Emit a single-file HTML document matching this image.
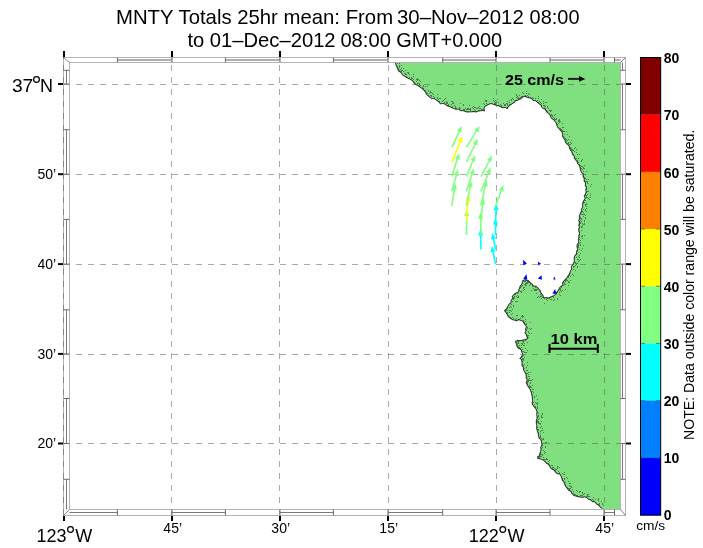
<!DOCTYPE html><html><head><meta charset="utf-8"><style>html,body{margin:0;padding:0;background:#fff;}svg{display:block;}text{font-family:"Liberation Sans", sans-serif;}</style></head><body>
<svg style="will-change:transform" width="703" height="548" viewBox="0 0 703 548">
<polygon points="395.1,63.0 395.9,64.9 396.8,67.2 397.7,69.2 398.5,71.2 401.0,72.7 402.5,75.2 404.8,76.6 407.1,78.0 409.4,79.1 411.6,80.3 413.2,81.7 414.3,83.7 416.2,84.9 418.5,86.3 420.7,87.7 422.4,89.1 424.1,90.4 425.3,92.3 426.3,94.4 428.1,95.9 429.8,97.4 431.5,98.8 433.8,98.5 435.5,99.7 437.4,100.9 438.9,102.5 440.6,104.0 443.2,103.5 445.2,104.4 446.9,105.9 448.9,106.4 450.8,107.3 452.6,108.2 455.3,109.3 458.3,109.3 460.3,110.8 462.8,110.8 465.1,111.6 467.2,112.3 469.4,112.1 471.5,112.1 473.7,111.7 476.1,112.2 478.3,111.2 480.5,111.0 482.8,110.6 484.5,111.2 484.2,108.8 485.0,106.6 487.5,105.2 490.1,103.8 492.3,104.1 494.3,104.9 496.4,105.5 498.6,105.9 500.7,106.9 502.8,107.9 505.3,107.5 507.2,108.9 508.4,106.7 510.2,105.3 512.1,103.9 514.2,102.7 515.7,100.9 517.7,100.4 519.5,99.4 521.5,98.8 522.8,96.9 524.8,96.4 527.0,97.4 529.4,98.1 531.5,98.7 532.9,100.4 535.2,100.7 536.9,101.9 538.4,103.5 540.8,105.1 541.5,107.2 543.1,108.6 545.3,109.4 546.1,111.5 547.5,113.0 549.5,114.2 550.3,116.5 551.4,118.6 553.5,119.7 554.8,121.6 556.3,123.2 556.7,125.4 557.5,127.3 559.0,128.9 560.3,130.6 561.9,132.2 562.4,134.2 562.4,136.5 563.5,138.3 564.7,140.0 565.3,142.2 566.4,144.0 568.5,145.2 569.2,147.3 569.7,149.4 571.1,150.9 571.9,152.8 572.4,154.8 574.1,156.3 574.2,158.5 575.6,160.1 577.0,161.8 577.6,164.0 579.3,165.5 579.9,167.7 580.3,170.0 581.1,172.2 582.9,174.1 582.9,176.5 584.0,178.6 583.9,181.1 585.5,183.1 585.1,185.7 586.2,187.8 585.6,189.8 586.0,192.0 585.2,194.0 584.0,195.9 585.0,198.3 583.8,200.2 582.8,202.3 582.3,204.5 582.6,206.9 581.4,208.9 581.1,211.2 580.2,213.6 579.2,215.9 579.3,218.5 578.6,220.6 579.3,222.8 578.6,224.9 579.1,227.1 578.6,229.2 578.7,231.4 579.4,233.6 578.6,235.7 578.6,237.9 578.4,240.0 578.6,242.4 577.1,244.4 576.7,246.7 577.5,249.1 576.5,251.3 576.3,253.7 574.8,255.6 574.0,257.8 574.1,260.2 573.8,262.5 572.4,264.5 571.2,266.5 571.6,269.0 570.2,270.9 569.5,273.7 567.7,276.0 566.7,277.8 565.3,279.3 563.7,280.7 562.5,282.4 562.6,284.9 560.8,286.2 559.2,287.9 558.5,290.2 556.7,291.8 555.7,293.9 553.7,295.6 551.2,296.6 548.9,297.7 546.3,297.4 543.8,297.7 543.1,295.1 541.2,293.1 540.4,290.5 537.8,287.5 535.9,286.0 533.5,285.8 532.2,283.8 530.2,282.4 528.7,280.6 525.7,279.5 522.8,280.2 522.1,282.4 521.5,284.5 519.9,286.0 519.6,288.0 518.6,289.8 518.4,291.9 514.8,293.3 512.2,296.2 512.4,298.5 510.8,300.5 510.8,302.8 508.9,304.0 507.8,306.0 506.8,307.9 504.2,310.8 505.5,312.2 506.9,314.3 507.9,316.6 509.9,318.2 511.9,319.6 514.2,320.3 516.4,321.0 518.6,319.9 520.8,320.6 523.0,321.5 524.2,324.3 526.3,326.4 525.5,328.5 525.8,331.0 524.6,333.0 526.2,334.5 526.7,336.6 527.4,338.5 524.7,339.6 521.9,340.1 519.7,340.6 517.4,340.3 515.3,341.2 516.4,344.5 517.0,346.7 518.3,348.5 520.7,349.4 521.4,351.6 522.5,354.4 521.4,356.5 519.7,358.2 521.5,360.1 521.9,362.6 521.7,365.2 523.2,367.5 523.5,370.0 524.3,371.8 525.5,373.5 526.0,375.5 525.9,377.8 527.2,380.0 526.0,382.4 526.9,384.6 527.9,386.4 529.0,388.1 530.2,389.8 530.8,391.7 531.4,393.7 531.9,395.9 532.2,398.1 532.6,400.2 531.9,402.5 532.3,404.7 533.7,406.4 535.1,408.0 536.3,409.9 536.9,412.0 536.5,414.3 536.9,416.6 536.8,418.9 536.0,421.1 536.3,423.4 536.6,425.6 536.5,427.9 536.9,430.2 537.6,432.1 538.1,434.0 538.5,436.0 538.9,438.3 540.7,439.8 541.5,441.9 541.8,444.8 540.5,447.4 540.9,449.5 540.4,451.5 539.6,453.5 539.6,455.6 537.4,456.5 537.8,458.8 540.6,459.1 543.3,460.2 545.0,461.7 546.4,463.4 548.4,464.5 549.6,466.4 551.0,468.8 553.6,469.9 555.2,472.1 557.2,473.9 559.8,474.3 560.9,476.3 561.7,478.4 562.3,480.6 563.9,482.3 564.5,484.5 565.5,486.5 567.1,488.4 568.5,490.5 570.7,491.4 571.9,493.7 573.4,495.4 575.7,496.2 579.1,497.1 582.0,497.4 584.8,497.1 586.8,497.8 588.4,499.4 590.5,499.9 592.1,501.7 594.7,502.0 596.2,503.9 598.3,505.2 599.9,507.0 601.9,508.5 603.0,509.0 620.0,509.0 620.0,63.0" fill="#80e080"/>
<defs><clipPath id="landclip"><polygon points="395.1,63.0 395.9,64.9 396.8,67.2 397.7,69.2 398.5,71.2 401.0,72.7 402.5,75.2 404.8,76.6 407.1,78.0 409.4,79.1 411.6,80.3 413.2,81.7 414.3,83.7 416.2,84.9 418.5,86.3 420.7,87.7 422.4,89.1 424.1,90.4 425.3,92.3 426.3,94.4 428.1,95.9 429.8,97.4 431.5,98.8 433.8,98.5 435.5,99.7 437.4,100.9 438.9,102.5 440.6,104.0 443.2,103.5 445.2,104.4 446.9,105.9 448.9,106.4 450.8,107.3 452.6,108.2 455.3,109.3 458.3,109.3 460.3,110.8 462.8,110.8 465.1,111.6 467.2,112.3 469.4,112.1 471.5,112.1 473.7,111.7 476.1,112.2 478.3,111.2 480.5,111.0 482.8,110.6 484.5,111.2 484.2,108.8 485.0,106.6 487.5,105.2 490.1,103.8 492.3,104.1 494.3,104.9 496.4,105.5 498.6,105.9 500.7,106.9 502.8,107.9 505.3,107.5 507.2,108.9 508.4,106.7 510.2,105.3 512.1,103.9 514.2,102.7 515.7,100.9 517.7,100.4 519.5,99.4 521.5,98.8 522.8,96.9 524.8,96.4 527.0,97.4 529.4,98.1 531.5,98.7 532.9,100.4 535.2,100.7 536.9,101.9 538.4,103.5 540.8,105.1 541.5,107.2 543.1,108.6 545.3,109.4 546.1,111.5 547.5,113.0 549.5,114.2 550.3,116.5 551.4,118.6 553.5,119.7 554.8,121.6 556.3,123.2 556.7,125.4 557.5,127.3 559.0,128.9 560.3,130.6 561.9,132.2 562.4,134.2 562.4,136.5 563.5,138.3 564.7,140.0 565.3,142.2 566.4,144.0 568.5,145.2 569.2,147.3 569.7,149.4 571.1,150.9 571.9,152.8 572.4,154.8 574.1,156.3 574.2,158.5 575.6,160.1 577.0,161.8 577.6,164.0 579.3,165.5 579.9,167.7 580.3,170.0 581.1,172.2 582.9,174.1 582.9,176.5 584.0,178.6 583.9,181.1 585.5,183.1 585.1,185.7 586.2,187.8 585.6,189.8 586.0,192.0 585.2,194.0 584.0,195.9 585.0,198.3 583.8,200.2 582.8,202.3 582.3,204.5 582.6,206.9 581.4,208.9 581.1,211.2 580.2,213.6 579.2,215.9 579.3,218.5 578.6,220.6 579.3,222.8 578.6,224.9 579.1,227.1 578.6,229.2 578.7,231.4 579.4,233.6 578.6,235.7 578.6,237.9 578.4,240.0 578.6,242.4 577.1,244.4 576.7,246.7 577.5,249.1 576.5,251.3 576.3,253.7 574.8,255.6 574.0,257.8 574.1,260.2 573.8,262.5 572.4,264.5 571.2,266.5 571.6,269.0 570.2,270.9 569.5,273.7 567.7,276.0 566.7,277.8 565.3,279.3 563.7,280.7 562.5,282.4 562.6,284.9 560.8,286.2 559.2,287.9 558.5,290.2 556.7,291.8 555.7,293.9 553.7,295.6 551.2,296.6 548.9,297.7 546.3,297.4 543.8,297.7 543.1,295.1 541.2,293.1 540.4,290.5 537.8,287.5 535.9,286.0 533.5,285.8 532.2,283.8 530.2,282.4 528.7,280.6 525.7,279.5 522.8,280.2 522.1,282.4 521.5,284.5 519.9,286.0 519.6,288.0 518.6,289.8 518.4,291.9 514.8,293.3 512.2,296.2 512.4,298.5 510.8,300.5 510.8,302.8 508.9,304.0 507.8,306.0 506.8,307.9 504.2,310.8 505.5,312.2 506.9,314.3 507.9,316.6 509.9,318.2 511.9,319.6 514.2,320.3 516.4,321.0 518.6,319.9 520.8,320.6 523.0,321.5 524.2,324.3 526.3,326.4 525.5,328.5 525.8,331.0 524.6,333.0 526.2,334.5 526.7,336.6 527.4,338.5 524.7,339.6 521.9,340.1 519.7,340.6 517.4,340.3 515.3,341.2 516.4,344.5 517.0,346.7 518.3,348.5 520.7,349.4 521.4,351.6 522.5,354.4 521.4,356.5 519.7,358.2 521.5,360.1 521.9,362.6 521.7,365.2 523.2,367.5 523.5,370.0 524.3,371.8 525.5,373.5 526.0,375.5 525.9,377.8 527.2,380.0 526.0,382.4 526.9,384.6 527.9,386.4 529.0,388.1 530.2,389.8 530.8,391.7 531.4,393.7 531.9,395.9 532.2,398.1 532.6,400.2 531.9,402.5 532.3,404.7 533.7,406.4 535.1,408.0 536.3,409.9 536.9,412.0 536.5,414.3 536.9,416.6 536.8,418.9 536.0,421.1 536.3,423.4 536.6,425.6 536.5,427.9 536.9,430.2 537.6,432.1 538.1,434.0 538.5,436.0 538.9,438.3 540.7,439.8 541.5,441.9 541.8,444.8 540.5,447.4 540.9,449.5 540.4,451.5 539.6,453.5 539.6,455.6 537.4,456.5 537.8,458.8 540.6,459.1 543.3,460.2 545.0,461.7 546.4,463.4 548.4,464.5 549.6,466.4 551.0,468.8 553.6,469.9 555.2,472.1 557.2,473.9 559.8,474.3 560.9,476.3 561.7,478.4 562.3,480.6 563.9,482.3 564.5,484.5 565.5,486.5 567.1,488.4 568.5,490.5 570.7,491.4 571.9,493.7 573.4,495.4 575.7,496.2 579.1,497.1 582.0,497.4 584.8,497.1 586.8,497.8 588.4,499.4 590.5,499.9 592.1,501.7 594.7,502.0 596.2,503.9 598.3,505.2 599.9,507.0 601.9,508.5 603.0,509.0 620.0,509.0 620.0,63.0"/></clipPath></defs>
<polyline points="395.1,62.5 395.9,64.9 396.8,67.2 397.7,69.2 398.5,71.2 401.0,72.7 402.5,75.2 404.8,76.6 407.1,78.0 409.4,79.1 411.6,80.3 413.2,81.7 414.3,83.7 416.2,84.9 418.5,86.3 420.7,87.7 422.4,89.1 424.1,90.4 425.3,92.3 426.3,94.4 428.1,95.9 429.8,97.4 431.5,98.8 433.8,98.5 435.5,99.7 437.4,100.9 438.9,102.5 440.6,104.0 443.2,103.5 445.2,104.4 446.9,105.9 448.9,106.4 450.8,107.3 452.6,108.2 455.3,109.3 458.3,109.3 460.3,110.8 462.8,110.8 465.1,111.6 467.2,112.3 469.4,112.1 471.5,112.1 473.7,111.7 476.1,112.2 478.3,111.2 480.5,111.0 482.8,110.6 484.5,111.2 484.2,108.8 485.0,106.6 487.5,105.2 490.1,103.8 492.3,104.1 494.3,104.9 496.4,105.5 498.6,105.9 500.7,106.9 502.8,107.9 505.3,107.5 507.2,108.9 508.4,106.7 510.2,105.3 512.1,103.9 514.2,102.7 515.7,100.9 517.7,100.4 519.5,99.4 521.5,98.8 522.8,96.9 524.8,96.4 527.0,97.4 529.4,98.1 531.5,98.7 532.9,100.4 535.2,100.7 536.9,101.9 538.4,103.5 540.8,105.1 541.5,107.2 543.1,108.6 545.3,109.4 546.1,111.5 547.5,113.0 549.5,114.2 550.3,116.5 551.4,118.6 553.5,119.7 554.8,121.6 556.3,123.2 556.7,125.4 557.5,127.3 559.0,128.9 560.3,130.6 561.9,132.2 562.4,134.2 562.4,136.5 563.5,138.3 564.7,140.0 565.3,142.2 566.4,144.0 568.5,145.2 569.2,147.3 569.7,149.4 571.1,150.9 571.9,152.8 572.4,154.8 574.1,156.3 574.2,158.5 575.6,160.1 577.0,161.8 577.6,164.0 579.3,165.5 579.9,167.7 580.3,170.0 581.1,172.2 582.9,174.1 582.9,176.5 584.0,178.6 583.9,181.1 585.5,183.1 585.1,185.7 586.2,187.8 585.6,189.8 586.0,192.0 585.2,194.0 584.0,195.9 585.0,198.3 583.8,200.2 582.8,202.3 582.3,204.5 582.6,206.9 581.4,208.9 581.1,211.2 580.2,213.6 579.2,215.9 579.3,218.5 578.6,220.6 579.3,222.8 578.6,224.9 579.1,227.1 578.6,229.2 578.7,231.4 579.4,233.6 578.6,235.7 578.6,237.9 578.4,240.0 578.6,242.4 577.1,244.4 576.7,246.7 577.5,249.1 576.5,251.3 576.3,253.7 574.8,255.6 574.0,257.8 574.1,260.2 573.8,262.5 572.4,264.5 571.2,266.5 571.6,269.0 570.2,270.9 569.5,273.7 567.7,276.0 566.7,277.8 565.3,279.3 563.7,280.7 562.5,282.4 562.6,284.9 560.8,286.2 559.2,287.9 558.5,290.2 556.7,291.8 555.7,293.9 553.7,295.6 551.2,296.6 548.9,297.7 546.3,297.4 543.8,297.7 543.1,295.1 541.2,293.1 540.4,290.5 537.8,287.5 535.9,286.0 533.5,285.8 532.2,283.8 530.2,282.4 528.7,280.6 525.7,279.5 522.8,280.2 522.1,282.4 521.5,284.5 519.9,286.0 519.6,288.0 518.6,289.8 518.4,291.9 514.8,293.3 512.2,296.2 512.4,298.5 510.8,300.5 510.8,302.8 508.9,304.0 507.8,306.0 506.8,307.9 504.2,310.8 505.5,312.2 506.9,314.3 507.9,316.6 509.9,318.2 511.9,319.6 514.2,320.3 516.4,321.0 518.6,319.9 520.8,320.6 523.0,321.5 524.2,324.3 526.3,326.4 525.5,328.5 525.8,331.0 524.6,333.0 526.2,334.5 526.7,336.6 527.4,338.5 524.7,339.6 521.9,340.1 519.7,340.6 517.4,340.3 515.3,341.2 516.4,344.5 517.0,346.7 518.3,348.5 520.7,349.4 521.4,351.6 522.5,354.4 521.4,356.5 519.7,358.2 521.5,360.1 521.9,362.6 521.7,365.2 523.2,367.5 523.5,370.0 524.3,371.8 525.5,373.5 526.0,375.5 525.9,377.8 527.2,380.0 526.0,382.4 526.9,384.6 527.9,386.4 529.0,388.1 530.2,389.8 530.8,391.7 531.4,393.7 531.9,395.9 532.2,398.1 532.6,400.2 531.9,402.5 532.3,404.7 533.7,406.4 535.1,408.0 536.3,409.9 536.9,412.0 536.5,414.3 536.9,416.6 536.8,418.9 536.0,421.1 536.3,423.4 536.6,425.6 536.5,427.9 536.9,430.2 537.6,432.1 538.1,434.0 538.5,436.0 538.9,438.3 540.7,439.8 541.5,441.9 541.8,444.8 540.5,447.4 540.9,449.5 540.4,451.5 539.6,453.5 539.6,455.6 537.4,456.5 537.8,458.8 540.6,459.1 543.3,460.2 545.0,461.7 546.4,463.4 548.4,464.5 549.6,466.4 551.0,468.8 553.6,469.9 555.2,472.1 557.2,473.9 559.8,474.3 560.9,476.3 561.7,478.4 562.3,480.6 563.9,482.3 564.5,484.5 565.5,486.5 567.1,488.4 568.5,490.5 570.7,491.4 571.9,493.7 573.4,495.4 575.7,496.2 579.1,497.1 582.0,497.4 584.8,497.1 586.8,497.8 588.4,499.4 590.5,499.9 592.1,501.7 594.7,502.0 596.2,503.9 598.3,505.2 599.9,507.0 601.9,508.5" fill="none" stroke="#1a1a1a" stroke-width="1.2" stroke-opacity="0.9" stroke-linejoin="round" clip-path="url(#landclip)"/>
<polyline points="395.1,62.5 395.9,64.9 396.8,67.2 397.7,69.2 398.5,71.2 401.0,72.7 402.5,75.2 404.8,76.6 407.1,78.0 409.4,79.1 411.6,80.3 413.2,81.7 414.3,83.7 416.2,84.9 418.5,86.3 420.7,87.7 422.4,89.1 424.1,90.4 425.3,92.3 426.3,94.4 428.1,95.9 429.8,97.4 431.5,98.8 433.8,98.5 435.5,99.7 437.4,100.9 438.9,102.5 440.6,104.0 443.2,103.5 445.2,104.4 446.9,105.9 448.9,106.4 450.8,107.3 452.6,108.2 455.3,109.3 458.3,109.3 460.3,110.8 462.8,110.8 465.1,111.6 467.2,112.3 469.4,112.1 471.5,112.1 473.7,111.7 476.1,112.2 478.3,111.2 480.5,111.0 482.8,110.6 484.5,111.2 484.2,108.8 485.0,106.6 487.5,105.2 490.1,103.8 492.3,104.1 494.3,104.9 496.4,105.5 498.6,105.9 500.7,106.9 502.8,107.9 505.3,107.5 507.2,108.9 508.4,106.7 510.2,105.3 512.1,103.9 514.2,102.7 515.7,100.9 517.7,100.4 519.5,99.4 521.5,98.8 522.8,96.9 524.8,96.4 527.0,97.4 529.4,98.1 531.5,98.7 532.9,100.4 535.2,100.7 536.9,101.9 538.4,103.5 540.8,105.1 541.5,107.2 543.1,108.6 545.3,109.4 546.1,111.5 547.5,113.0 549.5,114.2 550.3,116.5 551.4,118.6 553.5,119.7 554.8,121.6 556.3,123.2 556.7,125.4 557.5,127.3 559.0,128.9 560.3,130.6 561.9,132.2 562.4,134.2 562.4,136.5 563.5,138.3 564.7,140.0 565.3,142.2 566.4,144.0 568.5,145.2 569.2,147.3 569.7,149.4 571.1,150.9 571.9,152.8 572.4,154.8 574.1,156.3 574.2,158.5 575.6,160.1 577.0,161.8 577.6,164.0 579.3,165.5 579.9,167.7 580.3,170.0 581.1,172.2 582.9,174.1 582.9,176.5 584.0,178.6 583.9,181.1 585.5,183.1 585.1,185.7 586.2,187.8 585.6,189.8 586.0,192.0 585.2,194.0 584.0,195.9 585.0,198.3 583.8,200.2 582.8,202.3 582.3,204.5 582.6,206.9 581.4,208.9 581.1,211.2 580.2,213.6 579.2,215.9 579.3,218.5 578.6,220.6 579.3,222.8 578.6,224.9 579.1,227.1 578.6,229.2 578.7,231.4 579.4,233.6 578.6,235.7 578.6,237.9 578.4,240.0 578.6,242.4 577.1,244.4 576.7,246.7 577.5,249.1 576.5,251.3 576.3,253.7 574.8,255.6 574.0,257.8 574.1,260.2 573.8,262.5 572.4,264.5 571.2,266.5 571.6,269.0 570.2,270.9 569.5,273.7 567.7,276.0 566.7,277.8 565.3,279.3 563.7,280.7 562.5,282.4 562.6,284.9 560.8,286.2 559.2,287.9 558.5,290.2 556.7,291.8 555.7,293.9 553.7,295.6 551.2,296.6 548.9,297.7 546.3,297.4 543.8,297.7 543.1,295.1 541.2,293.1 540.4,290.5 537.8,287.5 535.9,286.0 533.5,285.8 532.2,283.8 530.2,282.4 528.7,280.6 525.7,279.5 522.8,280.2 522.1,282.4 521.5,284.5 519.9,286.0 519.6,288.0 518.6,289.8 518.4,291.9 514.8,293.3 512.2,296.2 512.4,298.5 510.8,300.5 510.8,302.8 508.9,304.0 507.8,306.0 506.8,307.9 504.2,310.8 505.5,312.2 506.9,314.3 507.9,316.6 509.9,318.2 511.9,319.6 514.2,320.3 516.4,321.0 518.6,319.9 520.8,320.6 523.0,321.5 524.2,324.3 526.3,326.4 525.5,328.5 525.8,331.0 524.6,333.0 526.2,334.5 526.7,336.6 527.4,338.5 524.7,339.6 521.9,340.1 519.7,340.6 517.4,340.3 515.3,341.2 516.4,344.5 517.0,346.7 518.3,348.5 520.7,349.4 521.4,351.6 522.5,354.4 521.4,356.5 519.7,358.2 521.5,360.1 521.9,362.6 521.7,365.2 523.2,367.5 523.5,370.0 524.3,371.8 525.5,373.5 526.0,375.5 525.9,377.8 527.2,380.0 526.0,382.4 526.9,384.6 527.9,386.4 529.0,388.1 530.2,389.8 530.8,391.7 531.4,393.7 531.9,395.9 532.2,398.1 532.6,400.2 531.9,402.5 532.3,404.7 533.7,406.4 535.1,408.0 536.3,409.9 536.9,412.0 536.5,414.3 536.9,416.6 536.8,418.9 536.0,421.1 536.3,423.4 536.6,425.6 536.5,427.9 536.9,430.2 537.6,432.1 538.1,434.0 538.5,436.0 538.9,438.3 540.7,439.8 541.5,441.9 541.8,444.8 540.5,447.4 540.9,449.5 540.4,451.5 539.6,453.5 539.6,455.6 537.4,456.5 537.8,458.8 540.6,459.1 543.3,460.2 545.0,461.7 546.4,463.4 548.4,464.5 549.6,466.4 551.0,468.8 553.6,469.9 555.2,472.1 557.2,473.9 559.8,474.3 560.9,476.3 561.7,478.4 562.3,480.6 563.9,482.3 564.5,484.5 565.5,486.5 567.1,488.4 568.5,490.5 570.7,491.4 571.9,493.7 573.4,495.4 575.7,496.2 579.1,497.1 582.0,497.4 584.8,497.1 586.8,497.8 588.4,499.4 590.5,499.9 592.1,501.7 594.7,502.0 596.2,503.9 598.3,505.2 599.9,507.0 601.9,508.5" fill="none" stroke="#1a1a1a" stroke-width="0.6" stroke-opacity="0.8" stroke-linejoin="round"/>
<path d="M397 66h1v1h-1zM396 65h1v1h-1zM399 63h1v1h-1zM401 65h1v1h-1zM397 63h1v1h-1zM395 63h1v1h-1zM399 63h1v1h-1zM399 65h1v1h-1zM397 66h1v1h-1zM396 62h1v1h-1zM397 68h1v1h-1zM399 67h1v1h-1zM398 68h1v1h-1zM403 68h1v1h-1zM397 68h1v1h-1zM401 65h1v1h-1zM399 66h1v1h-1zM398 69h1v1h-1zM398 70h1v1h-1zM399 70h1v1h-1zM401 68h1v1h-1zM399 72h1v1h-1zM400 69h1v1h-1zM401 71h1v1h-1zM403 71h1v1h-1zM404 73h1v1h-1zM400 71h1v1h-1zM399 71h1v1h-1zM402 70h1v1h-1zM399 71h1v1h-1zM401 70h1v1h-1zM406 74h1v1h-1zM406 76h1v1h-1zM408 73h1v1h-1zM405 70h1v1h-1zM405 77h1v1h-1zM405 74h1v1h-1zM407 77h1v1h-1zM407 72h1v1h-1zM408 72h1v1h-1zM405 74h1v1h-1zM405 73h1v1h-1zM411 77h1v1h-1zM410 79h1v1h-1zM413 74h1v1h-1zM412 78h1v1h-1zM410 79h1v1h-1zM413 76h1v1h-1zM408 78h1v1h-1zM409 77h1v1h-1zM411 78h1v1h-1zM409 74h1v1h-1zM409 74h1v1h-1zM412 80h1v1h-1zM415 83h1v1h-1zM413 79h1v1h-1zM417 80h1v1h-1zM418 79h1v1h-1zM417 78h1v1h-1zM412 80h1v1h-1zM414 82h1v1h-1zM416 81h1v1h-1zM417 79h1v1h-1zM414 82h1v1h-1zM416 79h1v1h-1zM415 84h1v1h-1zM419 80h1v1h-1zM419 84h1v1h-1zM418 83h1v1h-1zM419 84h1v1h-1zM419 80h1v1h-1zM419 85h1v1h-1zM420 85h1v1h-1zM419 83h1v1h-1zM417 83h1v1h-1zM420 81h1v1h-1zM420 87h1v1h-1zM418 86h1v1h-1zM425 86h1v1h-1zM425 90h1v1h-1zM422 89h1v1h-1zM427 86h1v1h-1zM423 85h1v1h-1zM420 87h1v1h-1zM423 86h1v1h-1zM422 88h1v1h-1zM423 90h1v1h-1zM424 90h1v1h-1zM423 89h1v1h-1zM422 87h1v1h-1zM423 89h1v1h-1zM423 88h1v1h-1zM426 92h1v1h-1zM429 93h1v1h-1zM430 92h1v1h-1zM431 92h1v1h-1zM428 91h1v1h-1zM432 93h1v1h-1zM427 93h1v1h-1zM429 96h1v1h-1zM433 94h1v1h-1zM426 92h1v1h-1zM428 95h1v1h-1zM428 90h1v1h-1zM430 91h1v1h-1zM426 92h1v1h-1zM433 98h1v1h-1zM431 95h1v1h-1zM437 94h1v1h-1zM431 96h1v1h-1zM434 97h1v1h-1zM433 98h1v1h-1zM430 97h1v1h-1zM430 95h1v1h-1zM433 96h1v1h-1zM430 97h1v1h-1zM432 93h1v1h-1zM437 94h1v1h-1zM430 97h1v1h-1zM439 101h1v1h-1zM438 101h1v1h-1zM438 99h1v1h-1zM438 99h1v1h-1zM437 97h1v1h-1zM438 101h1v1h-1zM439 98h1v1h-1zM437 100h1v1h-1zM437 98h1v1h-1zM440 98h1v1h-1zM446 102h1v1h-1zM446 103h1v1h-1zM442 101h1v1h-1zM445 98h1v1h-1zM445 104h1v1h-1zM447 102h1v1h-1zM446 101h1v1h-1zM444 99h1v1h-1zM447 102h1v1h-1zM446 101h1v1h-1zM443 100h1v1h-1zM439 102h1v1h-1zM442 104h1v1h-1zM442 101h1v1h-1zM444 104h1v1h-1zM447 103h1v1h-1zM442 101h1v1h-1zM444 102h1v1h-1zM451 101h1v1h-1zM451 104h1v1h-1zM453 102h1v1h-1zM447 103h1v1h-1zM451 107h1v1h-1zM449 106h1v1h-1zM448 105h1v1h-1zM447 105h1v1h-1zM452 106h1v1h-1zM451 101h1v1h-1zM452 101h1v1h-1zM452 103h1v1h-1zM448 104h1v1h-1zM456 109h1v1h-1zM457 109h1v1h-1zM455 108h1v1h-1zM455 106h1v1h-1zM453 103h1v1h-1zM455 107h1v1h-1zM456 108h1v1h-1zM454 105h1v1h-1zM455 108h1v1h-1zM456 108h1v1h-1zM452 107h1v1h-1zM452 108h1v1h-1zM463 110h1v1h-1zM465 108h1v1h-1zM460 103h1v1h-1zM464 111h1v1h-1zM464 110h1v1h-1zM463 105h1v1h-1zM460 108h1v1h-1zM465 108h1v1h-1zM463 104h1v1h-1zM464 109h1v1h-1zM459 107h1v1h-1zM461 110h1v1h-1zM459 107h1v1h-1zM459 108h1v1h-1zM463 109h1v1h-1zM467 109h1v1h-1zM468 108h1v1h-1zM469 105h1v1h-1zM473 108h1v1h-1zM467 111h1v1h-1zM472 107h1v1h-1zM470 110h1v1h-1zM467 108h1v1h-1zM469 109h1v1h-1zM470 108h1v1h-1zM466 111h1v1h-1zM473 106h1v1h-1zM472 111h1v1h-1zM465 111h1v1h-1zM468 109h1v1h-1zM466 109h1v1h-1zM465 111h1v1h-1zM470 109h1v1h-1zM479 110h1v1h-1zM478 110h1v1h-1zM476 108h1v1h-1zM481 110h1v1h-1zM474 107h1v1h-1zM478 107h1v1h-1zM475 110h1v1h-1zM475 107h1v1h-1zM476 108h1v1h-1zM482 109h1v1h-1zM478 107h1v1h-1zM481 109h1v1h-1zM477 111h1v1h-1zM481 110h1v1h-1zM474 109h1v1h-1zM477 108h1v1h-1zM475 107h1v1h-1zM474 111h1v1h-1zM479 110h1v1h-1zM476 108h1v1h-1zM484 110h1v1h-1zM483 109h1v1h-1zM484 110h1v1h-1zM481 110h1v1h-1zM479 108h1v1h-1zM479 106h1v1h-1zM480 108h1v1h-1zM484 109h1v1h-1zM479 108h1v1h-1zM484 107h1v1h-1zM483 109h1v1h-1zM483 109h1v1h-1zM484 109h1v1h-1zM486 101h1v1h-1zM485 101h1v1h-1zM487 104h1v1h-1zM486 100h1v1h-1zM486 105h1v1h-1zM486 103h1v1h-1zM485 100h1v1h-1zM486 101h1v1h-1zM484 104h1v1h-1zM488 104h1v1h-1zM483 103h1v1h-1zM489 104h1v1h-1zM494 104h1v1h-1zM495 102h1v1h-1zM491 103h1v1h-1zM495 103h1v1h-1zM495 104h1v1h-1zM493 98h1v1h-1zM494 103h1v1h-1zM494 101h1v1h-1zM495 100h1v1h-1zM493 100h1v1h-1zM495 100h1v1h-1zM496 101h1v1h-1zM497 99h1v1h-1zM494 103h1v1h-1zM505 104h1v1h-1zM501 105h1v1h-1zM498 102h1v1h-1zM507 108h1v1h-1zM498 105h1v1h-1zM501 106h1v1h-1zM506 108h1v1h-1zM499 106h1v1h-1zM504 104h1v1h-1zM498 106h1v1h-1zM501 105h1v1h-1zM506 108h1v1h-1zM497 105h1v1h-1zM498 105h1v1h-1zM504 105h1v1h-1zM498 106h1v1h-1zM499 106h1v1h-1zM504 107h1v1h-1zM503 103h1v1h-1zM501 106h1v1h-1zM507 103h1v1h-1zM500 104h1v1h-1zM507 107h1v1h-1zM498 106h1v1h-1zM512 98h1v1h-1zM509 104h1v1h-1zM511 104h1v1h-1zM513 99h1v1h-1zM509 106h1v1h-1zM510 104h1v1h-1zM511 100h1v1h-1zM512 103h1v1h-1zM508 107h1v1h-1zM506 103h1v1h-1zM509 102h1v1h-1zM515 100h1v1h-1zM511 104h1v1h-1zM513 102h1v1h-1zM511 99h1v1h-1zM514 102h1v1h-1zM507 104h1v1h-1zM507 107h1v1h-1zM507 101h1v1h-1zM509 100h1v1h-1zM507 103h1v1h-1zM507 101h1v1h-1zM505 105h1v1h-1zM507 105h1v1h-1zM511 104h1v1h-1zM523 96h1v1h-1zM518 99h1v1h-1zM517 98h1v1h-1zM521 96h1v1h-1zM521 97h1v1h-1zM518 97h1v1h-1zM522 92h1v1h-1zM521 97h1v1h-1zM517 96h1v1h-1zM517 98h1v1h-1zM519 98h1v1h-1zM523 93h1v1h-1zM516 97h1v1h-1zM517 98h1v1h-1zM520 97h1v1h-1zM518 98h1v1h-1zM521 97h1v1h-1zM516 97h1v1h-1zM516 94h1v1h-1zM519 95h1v1h-1zM516 95h1v1h-1zM516 100h1v1h-1zM526 93h1v1h-1zM528 97h1v1h-1zM528 93h1v1h-1zM527 97h1v1h-1zM525 96h1v1h-1zM525 95h1v1h-1zM526 91h1v1h-1zM527 95h1v1h-1zM529 94h1v1h-1zM528 96h1v1h-1zM532 99h1v1h-1zM530 97h1v1h-1zM538 96h1v1h-1zM537 100h1v1h-1zM534 101h1v1h-1zM532 99h1v1h-1zM535 101h1v1h-1zM533 98h1v1h-1zM538 98h1v1h-1zM534 101h1v1h-1zM538 98h1v1h-1zM534 100h1v1h-1zM533 100h1v1h-1zM538 96h1v1h-1zM535 98h1v1h-1zM537 102h1v1h-1zM539 101h1v1h-1zM531 99h1v1h-1zM532 97h1v1h-1zM536 101h1v1h-1zM538 102h1v1h-1zM533 100h1v1h-1zM538 103h1v1h-1zM541 103h1v1h-1zM540 102h1v1h-1zM541 99h1v1h-1zM543 101h1v1h-1zM539 104h1v1h-1zM540 104h1v1h-1zM547 111h1v1h-1zM547 106h1v1h-1zM543 105h1v1h-1zM541 105h1v1h-1zM546 102h1v1h-1zM549 110h1v1h-1zM544 105h1v1h-1zM546 110h1v1h-1zM547 107h1v1h-1zM541 105h1v1h-1zM544 108h1v1h-1zM544 106h1v1h-1zM543 105h1v1h-1zM544 105h1v1h-1zM544 106h1v1h-1zM543 103h1v1h-1zM545 102h1v1h-1zM545 108h1v1h-1zM545 106h1v1h-1zM548 108h1v1h-1zM546 110h1v1h-1zM550 110h1v1h-1zM554 119h1v1h-1zM552 115h1v1h-1zM555 119h1v1h-1zM552 116h1v1h-1zM554 120h1v1h-1zM550 111h1v1h-1zM556 118h1v1h-1zM554 115h1v1h-1zM551 114h1v1h-1zM548 113h1v1h-1zM551 115h1v1h-1zM550 116h1v1h-1zM553 117h1v1h-1zM549 114h1v1h-1zM550 116h1v1h-1zM551 110h1v1h-1zM556 119h1v1h-1zM554 119h1v1h-1zM553 119h1v1h-1zM554 118h1v1h-1zM554 120h1v1h-1zM553 119h1v1h-1zM555 114h1v1h-1zM547 112h1v1h-1zM556 123h1v1h-1zM559 119h1v1h-1zM560 128h1v1h-1zM558 123h1v1h-1zM555 122h1v1h-1zM560 129h1v1h-1zM562 123h1v1h-1zM561 129h1v1h-1zM556 123h1v1h-1zM563 127h1v1h-1zM559 121h1v1h-1zM557 124h1v1h-1zM559 120h1v1h-1zM560 130h1v1h-1zM558 127h1v1h-1zM559 129h1v1h-1zM558 120h1v1h-1zM560 121h1v1h-1zM562 127h1v1h-1zM558 121h1v1h-1zM560 129h1v1h-1zM555 122h1v1h-1zM559 122h1v1h-1zM561 132h1v1h-1zM563 131h1v1h-1zM564 137h1v1h-1zM567 134h1v1h-1zM563 136h1v1h-1zM566 131h1v1h-1zM563 136h1v1h-1zM563 136h1v1h-1zM565 139h1v1h-1zM564 134h1v1h-1zM562 130h1v1h-1zM561 133h1v1h-1zM563 138h1v1h-1zM564 131h1v1h-1zM561 132h1v1h-1zM562 135h1v1h-1zM569 136h1v1h-1zM561 130h1v1h-1zM564 137h1v1h-1zM565 138h1v1h-1zM562 131h1v1h-1zM563 136h1v1h-1zM570 142h1v1h-1zM568 142h1v1h-1zM570 144h1v1h-1zM571 140h1v1h-1zM568 139h1v1h-1zM567 140h1v1h-1zM566 141h1v1h-1zM571 143h1v1h-1zM568 145h1v1h-1zM567 143h1v1h-1zM568 143h1v1h-1zM566 139h1v1h-1zM569 144h1v1h-1zM568 146h1v1h-1zM565 141h1v1h-1zM567 143h1v1h-1zM567 143h1v1h-1zM568 145h1v1h-1zM576 158h1v1h-1zM576 152h1v1h-1zM570 150h1v1h-1zM571 151h1v1h-1zM573 150h1v1h-1zM572 153h1v1h-1zM573 154h1v1h-1zM574 157h1v1h-1zM570 150h1v1h-1zM577 154h1v1h-1zM574 157h1v1h-1zM572 152h1v1h-1zM575 147h1v1h-1zM570 147h1v1h-1zM579 154h1v1h-1zM571 148h1v1h-1zM573 156h1v1h-1zM574 148h1v1h-1zM570 148h1v1h-1zM572 150h1v1h-1zM569 148h1v1h-1zM578 158h1v1h-1zM574 156h1v1h-1zM572 149h1v1h-1zM571 149h1v1h-1zM575 158h1v1h-1zM576 149h1v1h-1zM573 155h1v1h-1zM574 151h1v1h-1zM570 147h1v1h-1zM577 154h1v1h-1zM581 160h1v1h-1zM578 162h1v1h-1zM579 164h1v1h-1zM578 164h1v1h-1zM577 161h1v1h-1zM577 162h1v1h-1zM576 161h1v1h-1zM577 162h1v1h-1zM582 159h1v1h-1zM581 161h1v1h-1zM577 160h1v1h-1zM578 158h1v1h-1zM577 161h1v1h-1zM575 160h1v1h-1zM581 168h1v1h-1zM585 174h1v1h-1zM581 168h1v1h-1zM584 165h1v1h-1zM583 168h1v1h-1zM586 171h1v1h-1zM579 165h1v1h-1zM580 169h1v1h-1zM583 175h1v1h-1zM583 173h1v1h-1zM580 165h1v1h-1zM580 168h1v1h-1zM581 166h1v1h-1zM579 165h1v1h-1zM582 169h1v1h-1zM582 166h1v1h-1zM583 167h1v1h-1zM581 172h1v1h-1zM580 167h1v1h-1zM582 173h1v1h-1zM584 168h1v1h-1zM580 167h1v1h-1zM580 169h1v1h-1zM579 165h1v1h-1zM583 171h1v1h-1zM591 184h1v1h-1zM586 179h1v1h-1zM586 186h1v1h-1zM587 183h1v1h-1zM590 186h1v1h-1zM585 178h1v1h-1zM584 177h1v1h-1zM584 180h1v1h-1zM584 180h1v1h-1zM584 181h1v1h-1zM584 178h1v1h-1zM584 181h1v1h-1zM585 183h1v1h-1zM583 177h1v1h-1zM584 181h1v1h-1zM587 182h1v1h-1zM587 181h1v1h-1zM583 176h1v1h-1zM584 180h1v1h-1zM584 181h1v1h-1zM586 181h1v1h-1zM585 181h1v1h-1zM583 179h1v1h-1zM588 179h1v1h-1zM585 182h1v1h-1zM584 196h1v1h-1zM587 194h1v1h-1zM584 199h1v1h-1zM590 195h1v1h-1zM586 197h1v1h-1zM585 195h1v1h-1zM585 193h1v1h-1zM588 198h1v1h-1zM590 193h1v1h-1zM586 188h1v1h-1zM585 194h1v1h-1zM590 193h1v1h-1zM586 189h1v1h-1zM588 191h1v1h-1zM585 190h1v1h-1zM585 194h1v1h-1zM587 191h1v1h-1zM586 196h1v1h-1zM586 195h1v1h-1zM589 199h1v1h-1zM586 192h1v1h-1zM584 198h1v1h-1zM587 197h1v1h-1zM590 197h1v1h-1zM584 198h1v1h-1zM586 195h1v1h-1zM585 194h1v1h-1zM586 204h1v1h-1zM582 206h1v1h-1zM583 203h1v1h-1zM584 202h1v1h-1zM583 201h1v1h-1zM583 200h1v1h-1zM581 207h1v1h-1zM586 206h1v1h-1zM582 205h1v1h-1zM585 210h1v1h-1zM584 200h1v1h-1zM586 206h1v1h-1zM585 205h1v1h-1zM586 203h1v1h-1zM583 203h1v1h-1zM585 209h1v1h-1zM583 209h1v1h-1zM585 205h1v1h-1zM586 208h1v1h-1zM581 209h1v1h-1zM585 204h1v1h-1zM583 202h1v1h-1zM585 200h1v1h-1zM586 211h1v1h-1zM583 212h1v1h-1zM582 214h1v1h-1zM585 215h1v1h-1zM579 218h1v1h-1zM579 216h1v1h-1zM581 211h1v1h-1zM585 217h1v1h-1zM581 212h1v1h-1zM582 211h1v1h-1zM581 214h1v1h-1zM584 214h1v1h-1zM580 217h1v1h-1zM582 214h1v1h-1zM585 218h1v1h-1zM583 214h1v1h-1zM583 216h1v1h-1zM579 221h1v1h-1zM584 221h1v1h-1zM580 223h1v1h-1zM579 221h1v1h-1zM581 218h1v1h-1zM581 221h1v1h-1zM579 224h1v1h-1zM579 228h1v1h-1zM579 224h1v1h-1zM584 220h1v1h-1zM579 225h1v1h-1zM580 222h1v1h-1zM578 239h1v1h-1zM579 237h1v1h-1zM582 227h1v1h-1zM578 227h1v1h-1zM581 230h1v1h-1zM579 231h1v1h-1zM582 238h1v1h-1zM579 239h1v1h-1zM581 236h1v1h-1zM579 222h1v1h-1zM579 222h1v1h-1zM580 220h1v1h-1zM579 234h1v1h-1zM578 229h1v1h-1zM584 223h1v1h-1zM580 218h1v1h-1zM582 236h1v1h-1zM579 234h1v1h-1zM582 235h1v1h-1zM584 235h1v1h-1zM584 220h1v1h-1zM581 227h1v1h-1zM584 224h1v1h-1zM581 219h1v1h-1zM579 223h1v1h-1zM581 226h1v1h-1zM579 235h1v1h-1zM579 232h1v1h-1zM583 224h1v1h-1zM579 225h1v1h-1zM582 225h1v1h-1zM582 223h1v1h-1zM581 230h1v1h-1zM579 222h1v1h-1zM579 221h1v1h-1zM577 244h1v1h-1zM578 245h1v1h-1zM579 243h1v1h-1zM576 250h1v1h-1zM577 250h1v1h-1zM577 248h1v1h-1zM577 251h1v1h-1zM576 250h1v1h-1zM580 245h1v1h-1zM578 242h1v1h-1zM582 248h1v1h-1zM577 243h1v1h-1zM583 245h1v1h-1zM580 242h1v1h-1zM580 244h1v1h-1zM580 242h1v1h-1zM581 250h1v1h-1zM578 247h1v1h-1zM577 246h1v1h-1zM579 249h1v1h-1zM580 245h1v1h-1zM578 244h1v1h-1zM580 242h1v1h-1zM578 246h1v1h-1zM580 240h1v1h-1zM576 257h1v1h-1zM579 260h1v1h-1zM577 253h1v1h-1zM575 265h1v1h-1zM578 256h1v1h-1zM573 264h1v1h-1zM573 262h1v1h-1zM573 264h1v1h-1zM579 255h1v1h-1zM578 261h1v1h-1zM576 263h1v1h-1zM580 259h1v1h-1zM580 253h1v1h-1zM573 260h1v1h-1zM574 262h1v1h-1zM578 259h1v1h-1zM576 254h1v1h-1zM573 259h1v1h-1zM577 259h1v1h-1zM574 257h1v1h-1zM577 263h1v1h-1zM575 262h1v1h-1zM576 264h1v1h-1zM576 253h1v1h-1zM576 252h1v1h-1zM579 257h1v1h-1zM573 262h1v1h-1zM576 253h1v1h-1zM575 263h1v1h-1zM572 263h1v1h-1zM570 270h1v1h-1zM575 270h1v1h-1zM571 269h1v1h-1zM571 269h1v1h-1zM573 264h1v1h-1zM573 267h1v1h-1zM573 266h1v1h-1zM571 269h1v1h-1zM574 266h1v1h-1zM571 267h1v1h-1zM577 266h1v1h-1zM571 268h1v1h-1zM577 267h1v1h-1zM573 269h1v1h-1zM569 272h1v1h-1zM569 273h1v1h-1zM569 274h1v1h-1zM569 275h1v1h-1zM570 273h1v1h-1zM568 276h1v1h-1zM568 274h1v1h-1zM569 274h1v1h-1zM568 275h1v1h-1zM570 276h1v1h-1zM573 275h1v1h-1zM572 274h1v1h-1zM564 282h1v1h-1zM568 277h1v1h-1zM566 279h1v1h-1zM561 286h1v1h-1zM565 284h1v1h-1zM566 279h1v1h-1zM570 280h1v1h-1zM566 279h1v1h-1zM568 281h1v1h-1zM563 285h1v1h-1zM563 281h1v1h-1zM561 285h1v1h-1zM565 280h1v1h-1zM564 284h1v1h-1zM569 282h1v1h-1zM561 285h1v1h-1zM564 283h1v1h-1zM566 280h1v1h-1zM567 280h1v1h-1zM568 285h1v1h-1zM565 289h1v1h-1zM568 282h1v1h-1zM565 284h1v1h-1zM560 286h1v1h-1zM565 281h1v1h-1zM563 282h1v1h-1zM561 286h1v1h-1zM559 289h1v1h-1zM561 291h1v1h-1zM560 286h1v1h-1zM559 292h1v1h-1zM557 292h1v1h-1zM559 294h1v1h-1zM556 292h1v1h-1zM558 289h1v1h-1zM560 295h1v1h-1zM556 293h1v1h-1zM560 289h1v1h-1zM558 290h1v1h-1zM557 292h1v1h-1zM558 290h1v1h-1zM557 290h1v1h-1zM561 287h1v1h-1zM562 290h1v1h-1zM560 288h1v1h-1zM560 286h1v1h-1zM560 290h1v1h-1zM554 299h1v1h-1zM557 298h1v1h-1zM557 299h1v1h-1zM552 296h1v1h-1zM553 300h1v1h-1zM549 298h1v1h-1zM555 294h1v1h-1zM551 299h1v1h-1zM550 296h1v1h-1zM552 295h1v1h-1zM555 294h1v1h-1zM550 299h1v1h-1zM549 297h1v1h-1zM552 295h1v1h-1zM553 294h1v1h-1zM549 297h1v1h-1zM553 297h1v1h-1zM544 303h1v1h-1zM546 299h1v1h-1zM544 298h1v1h-1zM547 300h1v1h-1zM547 298h1v1h-1zM546 299h1v1h-1zM547 298h1v1h-1zM546 297h1v1h-1zM544 297h1v1h-1zM546 299h1v1h-1zM546 297h1v1h-1zM542 297h1v1h-1zM541 296h1v1h-1zM539 297h1v1h-1zM542 294h1v1h-1zM537 297h1v1h-1zM541 298h1v1h-1zM539 291h1v1h-1zM541 293h1v1h-1zM540 296h1v1h-1zM541 293h1v1h-1zM540 294h1v1h-1zM541 292h1v1h-1zM543 297h1v1h-1zM539 297h1v1h-1zM538 296h1v1h-1zM541 295h1v1h-1zM541 292h1v1h-1zM534 290h1v1h-1zM539 289h1v1h-1zM535 290h1v1h-1zM538 288h1v1h-1zM538 288h1v1h-1zM537 289h1v1h-1zM536 289h1v1h-1zM536 293h1v1h-1zM533 288h1v1h-1zM536 290h1v1h-1zM534 289h1v1h-1zM531 290h1v1h-1zM536 290h1v1h-1zM534 289h1v1h-1zM535 287h1v1h-1zM535 286h1v1h-1zM535 289h1v1h-1zM537 287h1v1h-1zM527 283h1v1h-1zM530 283h1v1h-1zM532 285h1v1h-1zM527 282h1v1h-1zM528 281h1v1h-1zM530 284h1v1h-1zM529 281h1v1h-1zM528 282h1v1h-1zM532 286h1v1h-1zM529 285h1v1h-1zM527 281h1v1h-1zM529 282h1v1h-1zM529 281h1v1h-1zM529 282h1v1h-1zM530 282h1v1h-1zM527 280h1v1h-1zM526 282h1v1h-1zM526 280h1v1h-1zM525 283h1v1h-1zM526 282h1v1h-1zM525 285h1v1h-1zM526 282h1v1h-1zM525 280h1v1h-1zM524 281h1v1h-1zM524 279h1v1h-1zM523 280h1v1h-1zM523 281h1v1h-1zM524 281h1v1h-1zM526 283h1v1h-1zM523 281h1v1h-1zM525 281h1v1h-1zM523 280h1v1h-1zM522 282h1v1h-1zM522 285h1v1h-1zM521 284h1v1h-1zM526 285h1v1h-1zM523 287h1v1h-1zM525 284h1v1h-1zM521 283h1v1h-1zM522 285h1v1h-1zM524 284h1v1h-1zM524 287h1v1h-1zM521 292h1v1h-1zM524 289h1v1h-1zM519 290h1v1h-1zM521 291h1v1h-1zM519 287h1v1h-1zM521 286h1v1h-1zM520 287h1v1h-1zM519 287h1v1h-1zM519 288h1v1h-1zM519 287h1v1h-1zM523 290h1v1h-1zM523 288h1v1h-1zM520 291h1v1h-1zM517 295h1v1h-1zM517 295h1v1h-1zM516 296h1v1h-1zM517 292h1v1h-1zM515 293h1v1h-1zM515 293h1v1h-1zM517 293h1v1h-1zM517 297h1v1h-1zM514 296h1v1h-1zM514 294h1v1h-1zM512 296h1v1h-1zM514 297h1v1h-1zM518 296h1v1h-1zM515 294h1v1h-1zM518 297h1v1h-1zM517 297h1v1h-1zM514 297h1v1h-1zM512 296h1v1h-1zM517 301h1v1h-1zM515 301h1v1h-1zM512 301h1v1h-1zM513 297h1v1h-1zM513 297h1v1h-1zM513 298h1v1h-1zM514 298h1v1h-1zM513 299h1v1h-1zM513 297h1v1h-1zM516 301h1v1h-1zM511 299h1v1h-1zM512 298h1v1h-1zM512 309h1v1h-1zM511 311h1v1h-1zM510 310h1v1h-1zM507 307h1v1h-1zM510 306h1v1h-1zM509 307h1v1h-1zM512 309h1v1h-1zM511 304h1v1h-1zM506 307h1v1h-1zM513 306h1v1h-1zM506 307h1v1h-1zM513 305h1v1h-1zM509 307h1v1h-1zM511 307h1v1h-1zM504 310h1v1h-1zM509 310h1v1h-1zM507 313h1v1h-1zM506 309h1v1h-1zM505 308h1v1h-1zM505 310h1v1h-1zM506 310h1v1h-1zM507 310h1v1h-1zM505 311h1v1h-1zM505 311h1v1h-1zM504 310h1v1h-1zM507 308h1v1h-1zM507 313h1v1h-1zM508 315h1v1h-1zM508 315h1v1h-1zM509 317h1v1h-1zM506 313h1v1h-1zM509 312h1v1h-1zM511 314h1v1h-1zM507 315h1v1h-1zM509 316h1v1h-1zM507 312h1v1h-1zM510 317h1v1h-1zM511 311h1v1h-1zM510 317h1v1h-1zM509 310h1v1h-1zM509 316h1v1h-1zM509 316h1v1h-1zM512 317h1v1h-1zM515 319h1v1h-1zM515 320h1v1h-1zM513 318h1v1h-1zM512 313h1v1h-1zM510 318h1v1h-1zM517 315h1v1h-1zM516 320h1v1h-1zM515 320h1v1h-1zM516 315h1v1h-1zM511 318h1v1h-1zM516 315h1v1h-1zM516 315h1v1h-1zM513 318h1v1h-1zM510 318h1v1h-1zM518 319h1v1h-1zM516 320h1v1h-1zM516 320h1v1h-1zM516 320h1v1h-1zM516 318h1v1h-1zM522 317h1v1h-1zM522 315h1v1h-1zM519 319h1v1h-1zM519 319h1v1h-1zM523 316h1v1h-1zM520 320h1v1h-1zM520 318h1v1h-1zM521 316h1v1h-1zM523 320h1v1h-1zM522 316h1v1h-1zM524 323h1v1h-1zM530 322h1v1h-1zM525 319h1v1h-1zM524 323h1v1h-1zM523 322h1v1h-1zM525 324h1v1h-1zM523 321h1v1h-1zM526 324h1v1h-1zM526 323h1v1h-1zM523 322h1v1h-1zM524 322h1v1h-1zM525 321h1v1h-1zM526 329h1v1h-1zM525 330h1v1h-1zM530 329h1v1h-1zM526 330h1v1h-1zM526 330h1v1h-1zM530 329h1v1h-1zM530 329h1v1h-1zM529 333h1v1h-1zM527 327h1v1h-1zM525 333h1v1h-1zM529 328h1v1h-1zM527 328h1v1h-1zM531 328h1v1h-1zM525 328h1v1h-1zM527 336h1v1h-1zM527 335h1v1h-1zM528 337h1v1h-1zM525 335h1v1h-1zM526 335h1v1h-1zM528 335h1v1h-1zM525 335h1v1h-1zM527 335h1v1h-1zM531 333h1v1h-1zM526 334h1v1h-1zM528 331h1v1h-1zM528 332h1v1h-1zM527 337h1v1h-1zM522 341h1v1h-1zM525 340h1v1h-1zM522 341h1v1h-1zM524 339h1v1h-1zM523 341h1v1h-1zM525 339h1v1h-1zM527 342h1v1h-1zM524 345h1v1h-1zM523 342h1v1h-1zM523 342h1v1h-1zM524 343h1v1h-1zM527 342h1v1h-1zM519 340h1v1h-1zM515 341h1v1h-1zM518 341h1v1h-1zM517 343h1v1h-1zM516 346h1v1h-1zM517 340h1v1h-1zM517 340h1v1h-1zM516 345h1v1h-1zM519 340h1v1h-1zM517 344h1v1h-1zM515 343h1v1h-1zM521 343h1v1h-1zM522 344h1v1h-1zM517 344h1v1h-1zM518 343h1v1h-1zM518 343h1v1h-1zM516 342h1v1h-1zM515 342h1v1h-1zM519 340h1v1h-1zM517 341h1v1h-1zM518 342h1v1h-1zM519 347h1v1h-1zM517 346h1v1h-1zM521 347h1v1h-1zM521 350h1v1h-1zM525 348h1v1h-1zM522 343h1v1h-1zM524 345h1v1h-1zM520 349h1v1h-1zM519 345h1v1h-1zM518 347h1v1h-1zM522 349h1v1h-1zM521 345h1v1h-1zM517 346h1v1h-1zM519 348h1v1h-1zM518 346h1v1h-1zM517 344h1v1h-1zM523 345h1v1h-1zM520 348h1v1h-1zM518 347h1v1h-1zM527 350h1v1h-1zM522 351h1v1h-1zM525 352h1v1h-1zM524 352h1v1h-1zM526 352h1v1h-1zM523 351h1v1h-1zM521 359h1v1h-1zM524 357h1v1h-1zM522 354h1v1h-1zM521 356h1v1h-1zM523 359h1v1h-1zM524 357h1v1h-1zM523 358h1v1h-1zM522 356h1v1h-1zM523 355h1v1h-1zM523 360h1v1h-1zM519 358h1v1h-1zM522 358h1v1h-1zM520 360h1v1h-1zM522 359h1v1h-1zM522 361h1v1h-1zM523 359h1v1h-1zM521 360h1v1h-1zM521 361h1v1h-1zM521 357h1v1h-1zM519 358h1v1h-1zM523 365h1v1h-1zM527 362h1v1h-1zM524 368h1v1h-1zM523 366h1v1h-1zM523 369h1v1h-1zM522 364h1v1h-1zM524 368h1v1h-1zM523 365h1v1h-1zM523 369h1v1h-1zM526 367h1v1h-1zM523 365h1v1h-1zM523 365h1v1h-1zM524 364h1v1h-1zM523 365h1v1h-1zM524 368h1v1h-1zM527 365h1v1h-1zM525 372h1v1h-1zM530 372h1v1h-1zM526 373h1v1h-1zM528 372h1v1h-1zM527 370h1v1h-1zM528 374h1v1h-1zM526 373h1v1h-1zM525 373h1v1h-1zM527 373h1v1h-1zM526 375h1v1h-1zM525 373h1v1h-1zM527 370h1v1h-1zM526 370h1v1h-1zM527 377h1v1h-1zM527 384h1v1h-1zM526 383h1v1h-1zM530 380h1v1h-1zM527 383h1v1h-1zM529 380h1v1h-1zM530 382h1v1h-1zM526 380h1v1h-1zM528 381h1v1h-1zM532 379h1v1h-1zM529 376h1v1h-1zM529 378h1v1h-1zM527 384h1v1h-1zM528 380h1v1h-1zM526 379h1v1h-1zM531 380h1v1h-1zM527 381h1v1h-1zM527 382h1v1h-1zM528 376h1v1h-1zM528 379h1v1h-1zM533 392h1v1h-1zM531 392h1v1h-1zM530 391h1v1h-1zM530 386h1v1h-1zM533 389h1v1h-1zM529 387h1v1h-1zM530 387h1v1h-1zM527 384h1v1h-1zM529 390h1v1h-1zM532 385h1v1h-1zM531 392h1v1h-1zM527 386h1v1h-1zM530 383h1v1h-1zM530 391h1v1h-1zM531 387h1v1h-1zM530 383h1v1h-1zM531 392h1v1h-1zM532 389h1v1h-1zM532 385h1v1h-1zM529 385h1v1h-1zM529 386h1v1h-1zM532 391h1v1h-1zM537 399h1v1h-1zM531 396h1v1h-1zM532 400h1v1h-1zM532 404h1v1h-1zM532 398h1v1h-1zM537 402h1v1h-1zM532 401h1v1h-1zM534 397h1v1h-1zM536 395h1v1h-1zM532 403h1v1h-1zM532 397h1v1h-1zM532 401h1v1h-1zM532 401h1v1h-1zM533 402h1v1h-1zM531 400h1v1h-1zM532 394h1v1h-1zM534 404h1v1h-1zM532 403h1v1h-1zM531 394h1v1h-1zM532 401h1v1h-1zM534 396h1v1h-1zM532 401h1v1h-1zM532 398h1v1h-1zM532 399h1v1h-1zM534 407h1v1h-1zM533 406h1v1h-1zM532 404h1v1h-1zM535 408h1v1h-1zM536 403h1v1h-1zM535 407h1v1h-1zM537 404h1v1h-1zM537 408h1v1h-1zM537 407h1v1h-1zM535 407h1v1h-1zM535 406h1v1h-1zM535 407h1v1h-1zM537 406h1v1h-1zM536 411h1v1h-1zM532 404h1v1h-1zM535 402h1v1h-1zM535 408h1v1h-1zM537 403h1v1h-1zM538 419h1v1h-1zM539 418h1v1h-1zM537 416h1v1h-1zM541 417h1v1h-1zM541 421h1v1h-1zM536 419h1v1h-1zM542 414h1v1h-1zM537 417h1v1h-1zM541 415h1v1h-1zM542 417h1v1h-1zM542 413h1v1h-1zM537 412h1v1h-1zM538 415h1v1h-1zM538 413h1v1h-1zM537 420h1v1h-1zM538 419h1v1h-1zM536 417h1v1h-1zM541 416h1v1h-1zM536 418h1v1h-1zM538 416h1v1h-1zM538 423h1v1h-1zM536 426h1v1h-1zM538 422h1v1h-1zM536 423h1v1h-1zM537 427h1v1h-1zM538 429h1v1h-1zM538 421h1v1h-1zM540 423h1v1h-1zM540 427h1v1h-1zM536 421h1v1h-1zM536 428h1v1h-1zM536 422h1v1h-1zM537 422h1v1h-1zM537 429h1v1h-1zM540 423h1v1h-1zM538 422h1v1h-1zM541 426h1v1h-1zM537 421h1v1h-1zM540 424h1v1h-1zM539 423h1v1h-1zM538 430h1v1h-1zM538 435h1v1h-1zM542 430h1v1h-1zM538 434h1v1h-1zM537 431h1v1h-1zM541 430h1v1h-1zM543 432h1v1h-1zM540 433h1v1h-1zM540 431h1v1h-1zM537 433h1v1h-1zM538 432h1v1h-1zM537 433h1v1h-1zM542 428h1v1h-1zM540 437h1v1h-1zM540 435h1v1h-1zM541 441h1v1h-1zM541 438h1v1h-1zM542 439h1v1h-1zM539 437h1v1h-1zM540 440h1v1h-1zM541 441h1v1h-1zM540 436h1v1h-1zM543 439h1v1h-1zM543 438h1v1h-1zM540 440h1v1h-1zM541 440h1v1h-1zM538 436h1v1h-1zM546 442h1v1h-1zM541 444h1v1h-1zM545 442h1v1h-1zM545 446h1v1h-1zM541 442h1v1h-1zM541 443h1v1h-1zM541 442h1v1h-1zM541 445h1v1h-1zM543 443h1v1h-1zM541 443h1v1h-1zM542 445h1v1h-1zM542 444h1v1h-1zM542 447h1v1h-1zM540 449h1v1h-1zM545 447h1v1h-1zM540 452h1v1h-1zM545 452h1v1h-1zM541 448h1v1h-1zM540 453h1v1h-1zM544 453h1v1h-1zM540 447h1v1h-1zM543 450h1v1h-1zM542 454h1v1h-1zM539 455h1v1h-1zM544 451h1v1h-1zM539 453h1v1h-1zM542 455h1v1h-1zM540 454h1v1h-1zM545 452h1v1h-1zM541 454h1v1h-1zM539 461h1v1h-1zM538 458h1v1h-1zM537 456h1v1h-1zM539 457h1v1h-1zM540 459h1v1h-1zM539 456h1v1h-1zM538 457h1v1h-1zM537 457h1v1h-1zM541 456h1v1h-1zM538 458h1v1h-1zM540 456h1v1h-1zM539 454h1v1h-1zM539 457h1v1h-1zM539 459h1v1h-1zM537 458h1v1h-1zM539 458h1v1h-1zM543 457h1v1h-1zM538 455h1v1h-1zM539 457h1v1h-1zM542 455h1v1h-1zM543 459h1v1h-1zM539 458h1v1h-1zM547 459h1v1h-1zM548 461h1v1h-1zM546 458h1v1h-1zM549 466h1v1h-1zM547 463h1v1h-1zM544 459h1v1h-1zM546 459h1v1h-1zM548 461h1v1h-1zM549 466h1v1h-1zM543 460h1v1h-1zM549 460h1v1h-1zM548 463h1v1h-1zM549 464h1v1h-1zM545 459h1v1h-1zM543 460h1v1h-1zM543 460h1v1h-1zM544 459h1v1h-1zM545 459h1v1h-1zM548 464h1v1h-1zM552 465h1v1h-1zM557 467h1v1h-1zM554 468h1v1h-1zM556 469h1v1h-1zM555 471h1v1h-1zM555 469h1v1h-1zM552 469h1v1h-1zM552 468h1v1h-1zM554 468h1v1h-1zM552 469h1v1h-1zM551 465h1v1h-1zM557 466h1v1h-1zM554 470h1v1h-1zM553 467h1v1h-1zM554 470h1v1h-1zM555 470h1v1h-1zM552 467h1v1h-1zM559 467h1v1h-1zM555 471h1v1h-1zM556 469h1v1h-1zM555 472h1v1h-1zM558 471h1v1h-1zM559 472h1v1h-1zM556 472h1v1h-1zM559 473h1v1h-1zM557 467h1v1h-1zM557 473h1v1h-1zM557 468h1v1h-1zM564 483h1v1h-1zM563 482h1v1h-1zM564 478h1v1h-1zM564 472h1v1h-1zM561 478h1v1h-1zM564 483h1v1h-1zM562 473h1v1h-1zM566 477h1v1h-1zM564 483h1v1h-1zM562 473h1v1h-1zM562 479h1v1h-1zM565 485h1v1h-1zM563 482h1v1h-1zM569 483h1v1h-1zM563 481h1v1h-1zM568 481h1v1h-1zM564 483h1v1h-1zM562 480h1v1h-1zM567 478h1v1h-1zM565 484h1v1h-1zM563 480h1v1h-1zM563 474h1v1h-1zM564 483h1v1h-1zM564 478h1v1h-1zM565 482h1v1h-1zM560 475h1v1h-1zM564 474h1v1h-1zM564 479h1v1h-1zM562 478h1v1h-1zM570 483h1v1h-1zM567 488h1v1h-1zM569 488h1v1h-1zM570 486h1v1h-1zM571 486h1v1h-1zM569 489h1v1h-1zM568 488h1v1h-1zM567 487h1v1h-1zM568 488h1v1h-1zM569 485h1v1h-1zM570 488h1v1h-1zM575 494h1v1h-1zM573 493h1v1h-1zM570 492h1v1h-1zM577 491h1v1h-1zM571 491h1v1h-1zM569 491h1v1h-1zM576 490h1v1h-1zM569 490h1v1h-1zM574 494h1v1h-1zM575 494h1v1h-1zM572 493h1v1h-1zM571 491h1v1h-1zM572 489h1v1h-1zM570 488h1v1h-1zM574 494h1v1h-1zM569 491h1v1h-1zM571 487h1v1h-1zM572 493h1v1h-1zM573 491h1v1h-1zM570 492h1v1h-1zM577 495h1v1h-1zM579 496h1v1h-1zM579 492h1v1h-1zM577 496h1v1h-1zM578 496h1v1h-1zM577 496h1v1h-1zM576 495h1v1h-1zM579 491h1v1h-1zM582 492h1v1h-1zM584 493h1v1h-1zM582 495h1v1h-1zM583 494h1v1h-1zM580 495h1v1h-1zM581 495h1v1h-1zM583 494h1v1h-1zM582 493h1v1h-1zM583 497h1v1h-1zM579 497h1v1h-1zM580 491h1v1h-1zM587 496h1v1h-1zM588 496h1v1h-1zM587 494h1v1h-1zM588 494h1v1h-1zM589 499h1v1h-1zM587 498h1v1h-1zM589 499h1v1h-1zM587 494h1v1h-1zM589 496h1v1h-1zM587 496h1v1h-1zM586 496h1v1h-1zM587 495h1v1h-1zM585 497h1v1h-1zM592 499h1v1h-1zM593 502h1v1h-1zM598 500h1v1h-1zM592 501h1v1h-1zM598 498h1v1h-1zM593 497h1v1h-1zM598 498h1v1h-1zM591 500h1v1h-1zM591 500h1v1h-1zM598 499h1v1h-1zM593 501h1v1h-1zM592 501h1v1h-1zM595 499h1v1h-1zM595 502h1v1h-1zM593 500h1v1h-1zM599 504h1v1h-1zM602 504h1v1h-1zM599 503h1v1h-1zM597 504h1v1h-1zM598 505h1v1h-1zM596 504h1v1h-1zM601 501h1v1h-1zM600 507h1v1h-1zM598 504h1v1h-1zM598 505h1v1h-1zM602 503h1v1h-1zM598 505h1v1h-1zM596 504h1v1h-1zM600 507h1v1h-1zM602 504h1v1h-1zM596 504h1v1h-1zM603 505h1v1h-1zM602 508h1v1h-1z" fill="#333" fill-opacity="0.6" clip-path="url(#landclip)"/>
<line x1="171.5" y1="515" x2="171.5" y2="57" stroke="#555555" stroke-opacity="0.5" stroke-width="1" stroke-dasharray="6 6"/>
<line x1="279.5" y1="515" x2="279.5" y2="57" stroke="#555555" stroke-opacity="0.5" stroke-width="1" stroke-dasharray="6 6"/>
<line x1="388.5" y1="515" x2="388.5" y2="57" stroke="#555555" stroke-opacity="0.5" stroke-width="1" stroke-dasharray="6 6"/>
<line x1="496.5" y1="515" x2="496.5" y2="57" stroke="#555555" stroke-opacity="0.5" stroke-width="1" stroke-dasharray="6 6"/>
<line x1="604.5" y1="515" x2="604.5" y2="57" stroke="#555555" stroke-opacity="0.5" stroke-width="1" stroke-dasharray="6 6"/>
<line x1="64" y1="84.5" x2="626" y2="84.5" stroke="#555555" stroke-opacity="0.5" stroke-width="1" stroke-dasharray="6 6"/>
<line x1="64" y1="174.5" x2="626" y2="174.5" stroke="#555555" stroke-opacity="0.5" stroke-width="1" stroke-dasharray="6 6"/>
<line x1="64" y1="264.5" x2="626" y2="264.5" stroke="#555555" stroke-opacity="0.5" stroke-width="1" stroke-dasharray="6 6"/>
<line x1="64" y1="354.5" x2="626" y2="354.5" stroke="#555555" stroke-opacity="0.5" stroke-width="1" stroke-dasharray="6 6"/>
<line x1="64" y1="443.5" x2="626" y2="443.5" stroke="#555555" stroke-opacity="0.5" stroke-width="1" stroke-dasharray="6 6"/>
<g stroke="#b4b4b4" stroke-width="1" fill="none">
<rect x="63.5" y="57.5" width="562.0" height="458.0"/>
<rect x="69.5" y="62.5" width="551.0" height="447.0"/>
<line x1="63.5" y1="57.5" x2="69.5" y2="62.5" stroke="#808080"/>
<line x1="625.5" y1="57.5" x2="620.5" y2="62.5" stroke="#808080"/>
<line x1="63.5" y1="515.5" x2="69.5" y2="509.5" stroke="#808080"/>
<line x1="625.5" y1="515.5" x2="620.5" y2="509.5" stroke="#808080"/>
</g>
<g stroke="#b0b0b0" stroke-width="2" fill="none">
<line x1="117.4" y1="60.0" x2="172.0" y2="60.0"/>
<line x1="225.4" y1="60.0" x2="280.0" y2="60.0"/>
<line x1="333.4" y1="60.0" x2="388.0" y2="60.0"/>
<line x1="442.7" y1="60.0" x2="496.0" y2="60.0"/>
<line x1="550.0" y1="60.0" x2="604.0" y2="60.0"/>
<line x1="614.5" y1="60.0" x2="620.5" y2="60.0"/>
</g>
<g stroke="#7a7a7a" stroke-width="1" fill="none">
<line x1="69.5" y1="512.5" x2="117.4" y2="512.5"/>
<line x1="172.0" y1="512.5" x2="225.4" y2="512.5"/>
<line x1="280.0" y1="512.5" x2="333.4" y2="512.5"/>
<line x1="388.0" y1="512.5" x2="442.7" y2="512.5"/>
<line x1="496.0" y1="512.5" x2="550.0" y2="512.5"/>
<line x1="604.0" y1="512.5" x2="614.6" y2="512.5"/>
<line x1="66.5" y1="70.3" x2="66.5" y2="84.0"/>
<line x1="66.5" y1="129.7" x2="66.5" y2="174.2"/>
<line x1="66.5" y1="219.4" x2="66.5" y2="264.1"/>
<line x1="66.5" y1="309.8" x2="66.5" y2="353.9"/>
<line x1="66.5" y1="398.5" x2="66.5" y2="443.5"/>
<line x1="66.5" y1="479.3" x2="66.5" y2="509.5"/>
<line x1="622.5" y1="62.5" x2="622.5" y2="70.2"/>
<line x1="622.5" y1="84.0" x2="622.5" y2="129.5"/>
<line x1="622.5" y1="174.2" x2="622.5" y2="219.4"/>
<line x1="622.5" y1="264.1" x2="622.5" y2="309.8"/>
<line x1="622.5" y1="353.9" x2="622.5" y2="398.5"/>
<line x1="622.5" y1="443.5" x2="622.5" y2="479.3"/>
</g>
<g stroke="#6a6a6a" stroke-width="1">
<line x1="117.4" y1="57.5" x2="117.4" y2="62.5"/>
<line x1="117.4" y1="509.5" x2="117.4" y2="515.5"/>
<line x1="172.0" y1="57.5" x2="172.0" y2="62.5"/>
<line x1="172.0" y1="509.5" x2="172.0" y2="515.5"/>
<line x1="225.4" y1="57.5" x2="225.4" y2="62.5"/>
<line x1="225.4" y1="509.5" x2="225.4" y2="515.5"/>
<line x1="280.0" y1="57.5" x2="280.0" y2="62.5"/>
<line x1="280.0" y1="509.5" x2="280.0" y2="515.5"/>
<line x1="333.4" y1="57.5" x2="333.4" y2="62.5"/>
<line x1="333.4" y1="509.5" x2="333.4" y2="515.5"/>
<line x1="388.0" y1="57.5" x2="388.0" y2="62.5"/>
<line x1="388.0" y1="509.5" x2="388.0" y2="515.5"/>
<line x1="442.7" y1="57.5" x2="442.7" y2="62.5"/>
<line x1="442.7" y1="509.5" x2="442.7" y2="515.5"/>
<line x1="496.0" y1="57.5" x2="496.0" y2="62.5"/>
<line x1="496.0" y1="509.5" x2="496.0" y2="515.5"/>
<line x1="550.0" y1="57.5" x2="550.0" y2="62.5"/>
<line x1="550.0" y1="509.5" x2="550.0" y2="515.5"/>
<line x1="604.0" y1="57.5" x2="604.0" y2="62.5"/>
<line x1="604.0" y1="509.5" x2="604.0" y2="515.5"/>
<line x1="614.5" y1="57.5" x2="614.5" y2="62.5"/>
<line x1="614.5" y1="509.5" x2="614.5" y2="515.5"/>
<line x1="63.5" y1="70.3" x2="69.5" y2="70.3"/>
<line x1="620.5" y1="70.3" x2="625.5" y2="70.3"/>
<line x1="63.5" y1="84.0" x2="69.5" y2="84.0"/>
<line x1="620.5" y1="84.0" x2="625.5" y2="84.0"/>
<line x1="63.5" y1="129.7" x2="69.5" y2="129.7"/>
<line x1="620.5" y1="129.7" x2="625.5" y2="129.7"/>
<line x1="63.5" y1="174.2" x2="69.5" y2="174.2"/>
<line x1="620.5" y1="174.2" x2="625.5" y2="174.2"/>
<line x1="63.5" y1="219.4" x2="69.5" y2="219.4"/>
<line x1="620.5" y1="219.4" x2="625.5" y2="219.4"/>
<line x1="63.5" y1="264.1" x2="69.5" y2="264.1"/>
<line x1="620.5" y1="264.1" x2="625.5" y2="264.1"/>
<line x1="63.5" y1="309.8" x2="69.5" y2="309.8"/>
<line x1="620.5" y1="309.8" x2="625.5" y2="309.8"/>
<line x1="63.5" y1="353.9" x2="69.5" y2="353.9"/>
<line x1="620.5" y1="353.9" x2="625.5" y2="353.9"/>
<line x1="63.5" y1="398.5" x2="69.5" y2="398.5"/>
<line x1="620.5" y1="398.5" x2="625.5" y2="398.5"/>
<line x1="63.5" y1="443.5" x2="69.5" y2="443.5"/>
<line x1="620.5" y1="443.5" x2="625.5" y2="443.5"/>
<line x1="63.5" y1="479.3" x2="69.5" y2="479.3"/>
<line x1="620.5" y1="479.3" x2="625.5" y2="479.3"/>
</g>
<line x1="63.5" y1="515" x2="63.5" y2="57" stroke="#555555" stroke-opacity="0.5" stroke-width="1" stroke-dasharray="6 6"/>
<g stroke="#000" stroke-width="2">
<line x1="64.0" y1="51" x2="64.0" y2="57"/>
<line x1="64.0" y1="516" x2="64.0" y2="521"/>
<line x1="172.0" y1="51" x2="172.0" y2="57"/>
<line x1="172.0" y1="516" x2="172.0" y2="521"/>
<line x1="280.0" y1="51" x2="280.0" y2="57"/>
<line x1="280.0" y1="516" x2="280.0" y2="521"/>
<line x1="388.0" y1="51" x2="388.0" y2="57"/>
<line x1="388.0" y1="516" x2="388.0" y2="521"/>
<line x1="496.0" y1="51" x2="496.0" y2="57"/>
<line x1="496.0" y1="516" x2="496.0" y2="521"/>
<line x1="604.0" y1="51" x2="604.0" y2="57"/>
<line x1="604.0" y1="516" x2="604.0" y2="521"/>
<line x1="58" y1="84.0" x2="63" y2="84.0"/>
<line x1="626" y1="84.0" x2="631" y2="84.0"/>
<line x1="58" y1="174.2" x2="63" y2="174.2"/>
<line x1="626" y1="174.2" x2="631" y2="174.2"/>
<line x1="58" y1="264.1" x2="63" y2="264.1"/>
<line x1="626" y1="264.1" x2="631" y2="264.1"/>
<line x1="58" y1="353.9" x2="63" y2="353.9"/>
<line x1="626" y1="353.9" x2="631" y2="353.9"/>
<line x1="58" y1="443.5" x2="63" y2="443.5"/>
<line x1="626" y1="443.5" x2="631" y2="443.5"/>
</g>
<line x1="495.6" y1="264.2" x2="492.9" y2="251.1" stroke="#00ffff" stroke-width="1.6"/><polygon points="491.8,246.0 495.6,251.5 490.5,252.6" fill="#00ffff"/>
<line x1="481.0" y1="249.6" x2="480.6" y2="234.5" stroke="#00ffff" stroke-width="1.6"/><polygon points="480.5,229.3 483.3,235.4 478.1,235.6" fill="#00ffff"/>
<line x1="495.6" y1="249.6" x2="493.4" y2="238.0" stroke="#00ffff" stroke-width="1.6"/><polygon points="492.4,232.9 496.1,238.5 491.0,239.5" fill="#00ffff"/>
<line x1="466.4" y1="235.0" x2="466.8" y2="215.0" stroke="#80ff80" stroke-width="1.6"/><polygon points="466.9,209.8 469.4,216.1 464.2,215.9" fill="#80ff80"/>
<line x1="481.0" y1="235.0" x2="480.7" y2="217.5" stroke="#80ff80" stroke-width="1.6"/><polygon points="480.6,212.3 483.3,218.5 478.1,218.5" fill="#80ff80"/>
<line x1="495.6" y1="235.0" x2="495.5" y2="223.5" stroke="#00ffff" stroke-width="1.6"/><polygon points="495.4,218.3 498.1,224.5 492.9,224.5" fill="#00ffff"/>
<line x1="466.4" y1="220.4" x2="468.2" y2="199.8" stroke="#ffff00" stroke-width="1.6"/><polygon points="468.6,194.6 470.7,201.0 465.5,200.6" fill="#ffff00"/>
<line x1="481.0" y1="220.4" x2="482.8" y2="203.2" stroke="#80ff80" stroke-width="1.6"/><polygon points="483.3,198.0 485.3,204.4 480.1,203.9" fill="#80ff80"/>
<line x1="495.6" y1="220.4" x2="496.1" y2="209.0" stroke="#00ffff" stroke-width="1.6"/><polygon points="496.3,203.8 498.6,210.1 493.4,209.9" fill="#00ffff"/>
<line x1="451.8" y1="205.8" x2="454.6" y2="188.3" stroke="#80ff80" stroke-width="1.6"/><polygon points="455.4,183.2 457.0,189.7 451.9,188.9" fill="#80ff80"/>
<line x1="466.4" y1="205.8" x2="470.3" y2="186.1" stroke="#80ff80" stroke-width="1.6"/><polygon points="471.3,181.0 472.6,187.6 467.5,186.6" fill="#80ff80"/>
<line x1="481.0" y1="205.8" x2="485.3" y2="185.1" stroke="#80ff80" stroke-width="1.6"/><polygon points="486.4,180.0 487.7,186.6 482.6,185.5" fill="#80ff80"/>
<line x1="495.6" y1="205.8" x2="501.6" y2="189.9" stroke="#80ff80" stroke-width="1.6"/><polygon points="503.4,185.0 503.7,191.7 498.8,189.9" fill="#80ff80"/>
<line x1="451.8" y1="191.2" x2="456.6" y2="174.6" stroke="#80ff80" stroke-width="1.6"/><polygon points="458.1,169.6 458.9,176.3 453.9,174.8" fill="#80ff80"/>
<line x1="466.4" y1="191.2" x2="472.3" y2="173.4" stroke="#80ff80" stroke-width="1.6"/><polygon points="474.0,168.5 474.5,175.2 469.6,173.6" fill="#80ff80"/>
<line x1="481.0" y1="191.2" x2="488.8" y2="172.3" stroke="#80ff80" stroke-width="1.6"/><polygon points="490.8,167.5 490.8,174.2 486.0,172.2" fill="#80ff80"/>
<line x1="451.8" y1="176.6" x2="457.6" y2="158.2" stroke="#80ff80" stroke-width="1.6"/><polygon points="459.2,153.2 459.8,159.9 454.9,158.3" fill="#80ff80"/>
<line x1="466.4" y1="176.6" x2="473.1" y2="160.2" stroke="#80ff80" stroke-width="1.6"/><polygon points="475.1,155.4 475.2,162.1 470.3,160.1" fill="#80ff80"/>
<line x1="481.0" y1="176.6" x2="489.7" y2="160.0" stroke="#80ff80" stroke-width="1.6"/><polygon points="492.1,155.4 491.5,162.1 486.9,159.7" fill="#80ff80"/>
<line x1="451.8" y1="162.0" x2="460.3" y2="141.2" stroke="#ffff00" stroke-width="1.6"/><polygon points="462.3,136.4 462.4,143.1 457.5,141.1" fill="#ffff00"/>
<line x1="466.4" y1="162.0" x2="475.5" y2="143.4" stroke="#80ff80" stroke-width="1.6"/><polygon points="477.8,138.7 477.4,145.4 472.7,143.1" fill="#80ff80"/>
<line x1="451.8" y1="147.4" x2="459.7" y2="130.6" stroke="#80ff80" stroke-width="1.6"/><polygon points="461.9,125.9 461.6,132.6 456.9,130.4" fill="#80ff80"/>
<line x1="466.4" y1="147.4" x2="477.0" y2="130.3" stroke="#80ff80" stroke-width="1.6"/><polygon points="479.7,125.9 478.6,132.5 474.2,129.8" fill="#80ff80"/>
<polygon points="523.2,259.8 526.9,263.4 523.2,265.2" fill="#0000ff"/>
<polygon points="537.8,261.6 541.0,263.7 538.3,265.5" fill="#0000ff"/>
<polygon points="526.4,273.9 527.3,279.4 523.2,278.9" fill="#0000ff"/>
<polygon points="541.5,275.3 537.8,278.5 541.9,279.8" fill="#0000ff"/>
<polygon points="554.2,276.2 553.3,279.4 555.6,279.4" fill="#0000ff"/>
<polygon points="555.1,289.0 552.4,293.5 556.5,294.0" fill="#0000ff"/>
<text x="505.0" y="84.5" font-size="14.8" font-weight="bold" fill="#000" textLength="59.0" lengthAdjust="spacingAndGlyphs">25 cm/s</text>
<line x1="568" y1="78.9" x2="580" y2="78.9" stroke="#222" stroke-width="2"/>
<polygon points="585.4,78.9 579.0,76.0 579.0,81.8" fill="#000"/>
<g stroke="#000" stroke-width="2"><line x1="549.5" y1="348.7" x2="597.8" y2="348.7"/><line x1="549.5" y1="343.9" x2="549.5" y2="352.9"/><line x1="597.8" y1="343.9" x2="597.8" y2="352.9"/></g>
<text x="550.6" y="344.4" font-size="14.8" font-weight="bold" fill="#000" textLength="46.8" lengthAdjust="spacingAndGlyphs">10 km</text>
<rect x="640.3" y="57.30" width="20.4" height="57.52" fill="#800000"/>
<rect x="640.3" y="114.53" width="20.4" height="57.52" fill="#ff0000"/>
<rect x="640.3" y="171.75" width="20.4" height="57.52" fill="#ff8000"/>
<rect x="640.3" y="228.98" width="20.4" height="57.52" fill="#ffff00"/>
<rect x="640.3" y="286.20" width="20.4" height="57.52" fill="#80ff80"/>
<rect x="640.3" y="343.43" width="20.4" height="57.52" fill="#00ffff"/>
<rect x="640.3" y="400.65" width="20.4" height="57.52" fill="#0080ff"/>
<rect x="640.3" y="457.88" width="20.4" height="57.52" fill="#0000ff"/>
<rect x="640.5" y="57.5" width="20.2" height="457.6" fill="none" stroke="#000" stroke-width="1"/>
<g stroke="#555" stroke-width="1" stroke-opacity="0.7">
<line x1="641" y1="114.5" x2="645" y2="114.5"/><line x1="656" y1="114.5" x2="660" y2="114.5"/>
<line x1="641" y1="171.8" x2="645" y2="171.8"/><line x1="656" y1="171.8" x2="660" y2="171.8"/>
<line x1="641" y1="229.0" x2="645" y2="229.0"/><line x1="656" y1="229.0" x2="660" y2="229.0"/>
<line x1="641" y1="286.2" x2="645" y2="286.2"/><line x1="656" y1="286.2" x2="660" y2="286.2"/>
<line x1="641" y1="343.4" x2="645" y2="343.4"/><line x1="656" y1="343.4" x2="660" y2="343.4"/>
<line x1="641" y1="400.7" x2="645" y2="400.7"/><line x1="656" y1="400.7" x2="660" y2="400.7"/>
<line x1="641" y1="457.9" x2="645" y2="457.9"/><line x1="656" y1="457.9" x2="660" y2="457.9"/>
</g>
<text x="663.7" y="63.3" font-size="14" font-weight="bold" fill="#000">80</text>
<text x="663.7" y="120.4" font-size="14" font-weight="bold" fill="#000">70</text>
<text x="663.7" y="177.5" font-size="14" font-weight="bold" fill="#000">60</text>
<text x="663.7" y="234.6" font-size="14" font-weight="bold" fill="#000">50</text>
<text x="663.7" y="291.7" font-size="14" font-weight="bold" fill="#000">40</text>
<text x="663.7" y="348.9" font-size="14" font-weight="bold" fill="#000">30</text>
<text x="663.7" y="406.0" font-size="14" font-weight="bold" fill="#000">20</text>
<text x="663.7" y="463.1" font-size="14" font-weight="bold" fill="#000">10</text>
<text x="663.7" y="520.2" font-size="14" font-weight="bold" fill="#000">0</text>
<text x="636.2" y="530.1" font-size="12.6" fill="#000" textLength="29.0" lengthAdjust="spacingAndGlyphs">cm/s</text>
<text transform="translate(694.4,439.9) rotate(-90)" x="0" y="0" font-size="14.1" fill="#000">NOTE: Data outside color range will be saturated.</text>
<text x="116.00" y="23.90" font-size="20.20" fill="#000" textLength="277.08" lengthAdjust="spacingAndGlyphs">MNTY Totals 25hr mean: From</text>
<text x="397.00" y="23.90" font-size="20.20" fill="#000" textLength="126.74" lengthAdjust="spacingAndGlyphs">30–Nov–2012</text>
<text x="529.60" y="23.90" font-size="20.20" fill="#000" textLength="49.91" lengthAdjust="spacingAndGlyphs">08:00</text>
<text x="187.40" y="47.00" font-size="20.00" fill="#000" textLength="148.22" lengthAdjust="spacingAndGlyphs">to 01–Dec–2012</text>
<text x="340.40" y="47.00" font-size="20.00" fill="#000" textLength="50.49" lengthAdjust="spacingAndGlyphs">08:00</text>
<text x="396.20" y="47.00" font-size="20.00" fill="#000" textLength="105.97" lengthAdjust="spacingAndGlyphs">GMT+0.000</text>
<text x="11.9" y="91.6" font-size="18" fill="#000" textLength="21.4" lengthAdjust="spacingAndGlyphs">37</text>
<ellipse cx="36.50" cy="79.40" rx="2.85" ry="2.85" fill="none" stroke="#000" stroke-width="1.25"/>
<text x="40.0" y="91.6" font-size="18" fill="#000">N</text>
<text x="36.5" y="542.0" font-size="18" fill="#000">123</text>
<ellipse cx="70.50" cy="529.40" rx="2.85" ry="2.85" fill="none" stroke="#000" stroke-width="1.25"/>
<text x="75.2" y="542.0" font-size="18" fill="#000">W</text>
<text x="468.8" y="542.0" font-size="18" fill="#000">122</text>
<ellipse cx="502.80" cy="529.40" rx="2.85" ry="2.85" fill="none" stroke="#000" stroke-width="1.25"/>
<text x="507.5" y="542.0" font-size="18" fill="#000">W</text>
<text x="56.2" y="178.8" font-size="14" text-anchor="end" fill="#000">50’</text>
<text x="56.2" y="268.7" font-size="14" text-anchor="end" fill="#000">40’</text>
<text x="56.2" y="358.5" font-size="14" text-anchor="end" fill="#000">30’</text>
<text x="56.2" y="448.1" font-size="14" text-anchor="end" fill="#000">20’</text>
<text x="172.7" y="533.0" font-size="14" text-anchor="middle" fill="#000">45’</text>
<text x="280.7" y="533.0" font-size="14" text-anchor="middle" fill="#000">30’</text>
<text x="388.7" y="533.0" font-size="14" text-anchor="middle" fill="#000">15’</text>
<text x="604.7" y="533.0" font-size="14" text-anchor="middle" fill="#000">45’</text>
</svg></body></html>
